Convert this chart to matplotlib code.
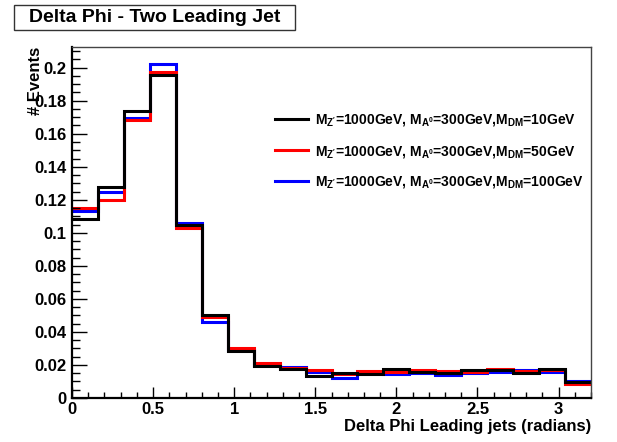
import numpy as np
import matplotlib
matplotlib.use("Agg")
import matplotlib.pyplot as plt
from matplotlib.ticker import MultipleLocator, FuncFormatter
from matplotlib.patches import Rectangle

# ---- data ----
bin_width = 0.16
n_bins = 20
black_vals = [0.1085, 0.1280, 0.1737, 0.1958, 0.1048, 0.0503, 0.0287, 0.0196, 0.0176, 0.0133,
              0.0150, 0.0145, 0.0174, 0.0156, 0.0150, 0.0172, 0.0172, 0.0150, 0.0178, 0.0095]
red_vals = [0.1150, 0.1198, 0.1685, 0.1974, 0.1032, 0.0489, 0.0301, 0.0214, 0.0180, 0.0168,
            0.0143, 0.0162, 0.0158, 0.0170, 0.0164, 0.0158, 0.0178, 0.0162, 0.0168, 0.0083]
blue_vals = [0.1135, 0.1248, 0.1697, 0.2024, 0.1059, 0.0460, 0.0290, 0.0200, 0.0190, 0.0160,
             0.0119, 0.0150, 0.0145, 0.0150, 0.0140, 0.0152, 0.0158, 0.0168, 0.0160, 0.0105]
labels = [r"M$_{Z'}$=1000GeV, M$_{A^{0}}$=300GeV,M$_{DM}$=10GeV",
          r"M$_{Z'}$=1000GeV, M$_{A^{0}}$=300GeV,M$_{DM}$=50GeV",
          r"M$_{Z'}$=1000GeV, M$_{A^{0}}$=300GeV,M$_{DM}$=100GeV"]
title = "Delta Phi - Two Leading Jet"
xlabel = "Delta Phi Leading jets (radians)"
ylabel = "# Events"

plt.rcParams['font.family'] = ['Liberation Sans', 'DejaVu Sans']
plt.rcParams['font.weight'] = 'bold'
plt.rcParams['mathtext.default'] = 'regular'

W, H = 617, 442
edges = np.arange(n_bins + 1) * bin_width

fig = plt.figure(figsize=(W / 100, H / 100), dpi=100)
ax = fig.add_axes([72 / W, 44 / H, (591 - 72) / W, (398 - 47) / H])

colors = ['#0000ff', '#ff0000', '#000000']
series = [blue_vals, red_vals, black_vals]
handles = {}
for vals, c in zip(series, colors):
    h = ax.stairs(vals, edges, color=c, linewidth=2.2, baseline=None)
    handles[c] = h

ax.set_xlim(0, n_bins * bin_width)
ymax = max(max(black_vals), max(red_vals), max(blue_vals)) * 1.05
ax.set_ylim(0, ymax)

fmt = FuncFormatter(lambda v, p: ('%g' % round(v, 4)))
ax.xaxis.set_major_locator(MultipleLocator(0.5))
ax.xaxis.set_minor_locator(MultipleLocator(0.1))
ax.yaxis.set_major_locator(MultipleLocator(0.02))
ax.yaxis.set_minor_locator(MultipleLocator(0.005))
ax.yaxis.set_major_formatter(fmt)
ax.xaxis.set_major_formatter(fmt)

ax.tick_params(axis='both', which='both', direction='in', top=False, right=False,
               labelsize=12, width=1.0)
ax.tick_params(axis='y', which='major', length=11, pad=4)
ax.tick_params(axis='y', which='minor', length=6)
ax.tick_params(axis='x', which='major', length=8, pad=3)
ax.tick_params(axis='x', which='minor', length=4.5)
for lab in ax.get_xticklabels() + ax.get_yticklabels():
    lab.set_fontweight('bold')

for s in ['left', 'bottom']:
    ax.spines[s].set_linewidth(1.6)
    ax.spines[s].set_color('black')
for s in ['top', 'right']:
    ax.spines[s].set_linewidth(1.0)
    ax.spines[s].set_color('#444444')

fig.text(591 / W, 1 - 427 / H, xlabel, ha='right', va='center', fontsize=12, fontweight='bold')
fig.text(35 / W, 1 - 47 / H, ylabel, ha='center', va='top', rotation=90, fontsize=12, fontweight='bold')

fig.patches.append(Rectangle((14 / W, 1 - 30 / H), (295 - 14) / W, 25 / H, transform=fig.transFigure,
                             fill=True, facecolor='white', edgecolor='#333333', linewidth=1.0))
fig.text(154.5 / W, 1 - 18 / H, title, ha='center', va='center', fontsize=14, fontweight='bold')

leg = ax.legend([handles['#000000'], handles['#ff0000'], handles['#0000ff']], labels,
                loc='upper left', bbox_to_anchor=(262 / W, 1 - 100 / H), bbox_transform=fig.transFigure,
                frameon=False, fontsize=10, handlelength=2.4, handletextpad=0.5, labelspacing=1.08)
for t in leg.get_texts():
    t.set_fontweight('bold')

fig.savefig('out.png', dpi=100)
